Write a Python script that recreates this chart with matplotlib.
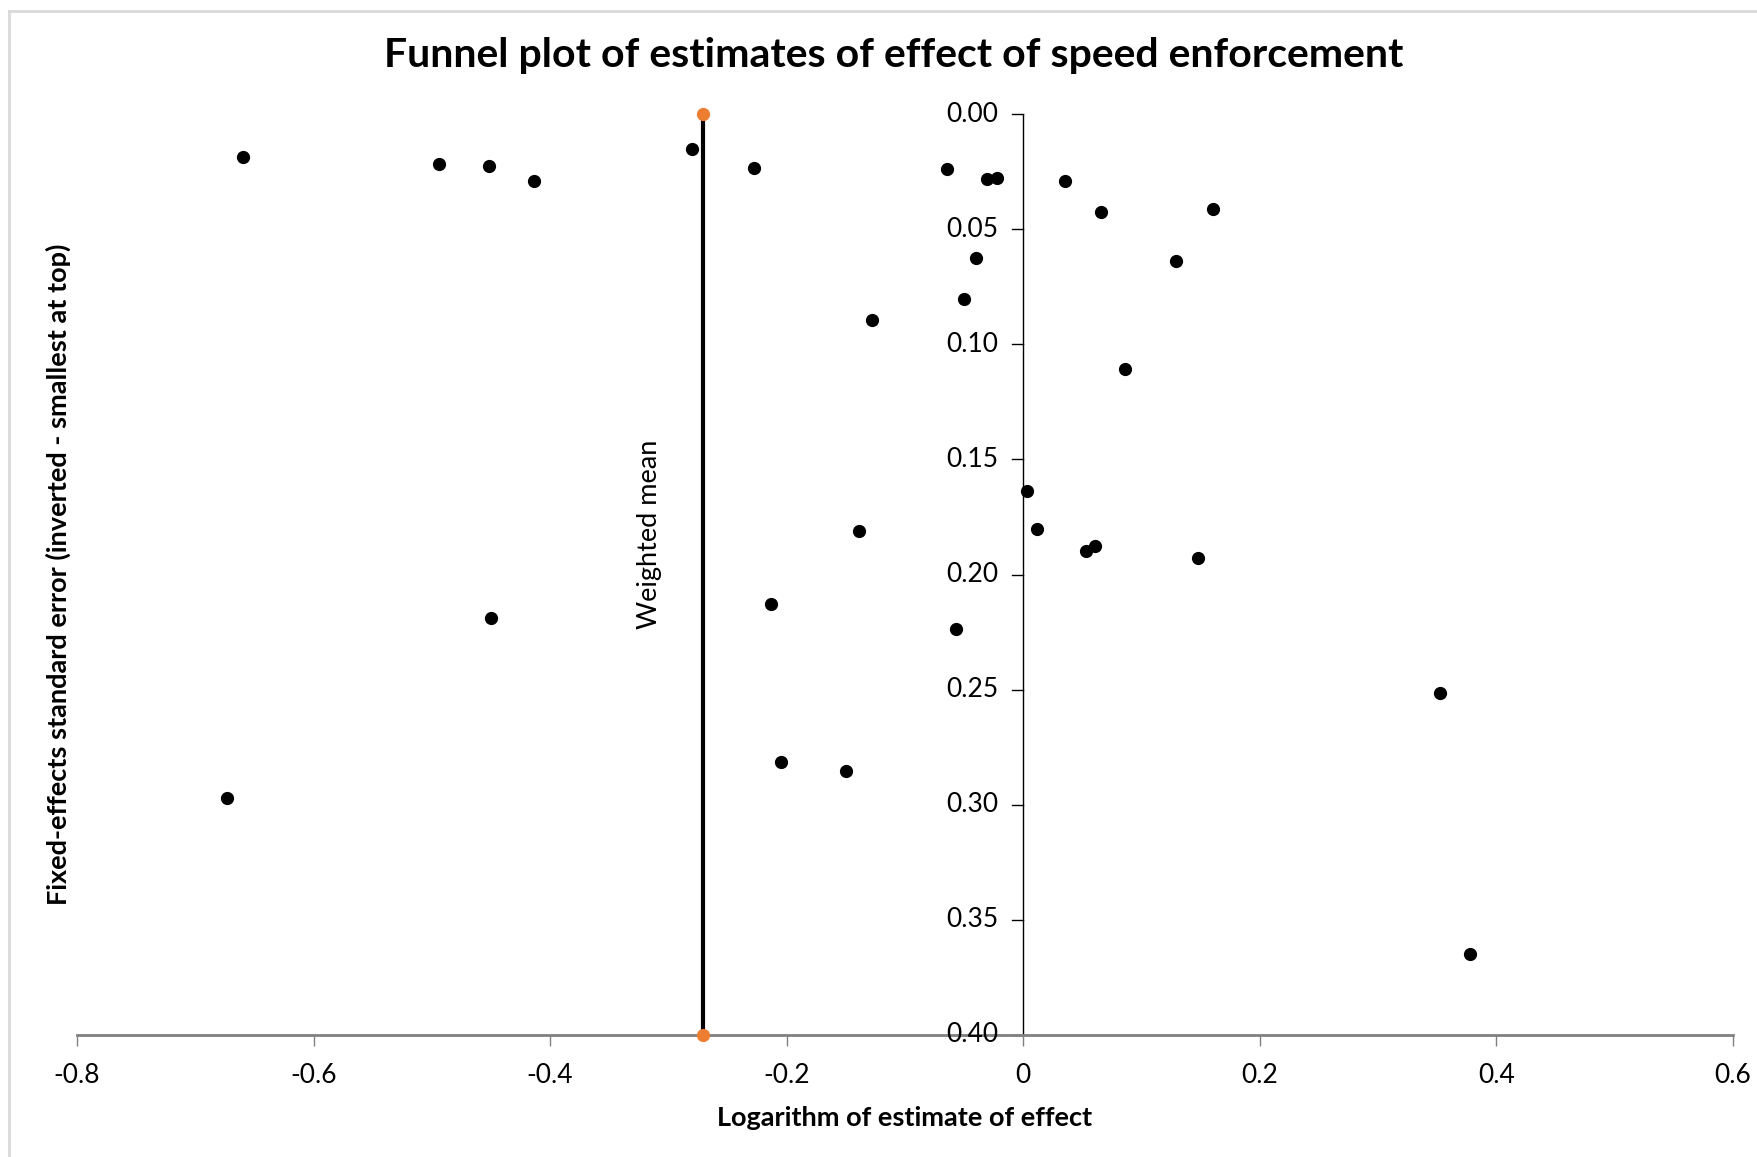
import matplotlib.pyplot as plt
from matplotlib.lines import Line2D

plt.rcParams['font.family'] = ['Lato', 'DejaVu Sans']

# log of estimate of effect, fixed-effects standard error
log_effect = [-0.660, -0.494, -0.452, -0.414, -0.280, -0.228, -0.0645, -0.0303,
              -0.0218, 0.0351, 0.0654, 0.160, -0.0398, 0.129, -0.0502, -0.128,
              0.0863, 0.0028, 0.0114, -0.139, 0.0607, 0.0531, 0.148, -0.213,
              -0.450, -0.0569, 0.352, -0.205, -0.150, -0.673, 0.378]
std_error = [0.0185, 0.0219, 0.0224, 0.0292, 0.0151, 0.0234, 0.0239, 0.0283,
             0.0278, 0.0292, 0.0424, 0.0414, 0.0624, 0.0638, 0.0804, 0.0896,
             0.1106, 0.1637, 0.1803, 0.1812, 0.1876, 0.1900, 0.1929, 0.2129,
             0.2188, 0.2236, 0.2514, 0.2816, 0.2855, 0.2972, 0.3649]

mean_x = [-0.271, -0.271]
mean_y = [0.0, 0.40]

xticks = [-0.8, -0.6, -0.4, -0.2, 0, 0.2, 0.4, 0.6]
xticklabels = ['-0.8', '-0.6', '-0.4', '-0.2', '0', '0.2', '0.4', '0.6']
yticks = [0.0, 0.05, 0.10, 0.15, 0.20, 0.25, 0.30, 0.35, 0.40]

W, H = 1758, 1157
fig = plt.figure(figsize=(W / 100, H / 100), dpi=100)
# chart border: only top and left edges fall inside the picture
fig.lines.append(Line2D([9 / W, 9 / W], [0, 1 - 11 / H], transform=fig.transFigure,
                        color='#d9d9d9', linewidth=2))
fig.lines.append(Line2D([9 / W, 1], [1 - 11 / H, 1 - 11 / H], transform=fig.transFigure,
                        color='#d9d9d9', linewidth=2))

ax = fig.add_axes([77 / W, 1 - 1035 / H, (1733 - 77) / W, (1035 - 114) / H])

ax.plot(mean_x, mean_y, color='black', linewidth=3, zorder=2, clip_on=False)
ax.plot(mean_x, mean_y, 'o', color='#ED7D31', ms=8.5, zorder=3, clip_on=False)
ax.plot(log_effect, std_error, 'o', color='black', ms=8.5, zorder=4, clip_on=False)

ax.set_xlim(-0.8, 0.6)
ax.set_ylim(0.40, 0.0)

for s in ['top', 'right', 'left']:
    ax.spines[s].set_visible(False)
ax.spines['bottom'].set_color('#808080')
ax.spines['bottom'].set_linewidth(2)

# y axis drawn at x = 0
ax.axvline(0, color='black', linewidth=1, zorder=1)
for yt in yticks:
    ax.plot([-0.0095, 0], [yt, yt], color='black', linewidth=1, clip_on=False)
    ax.text(-0.021, yt, f'{yt:.2f}', ha='right', va='center', fontsize=19)
ax.set_yticks([])

ax.set_xticks(xticks)
ax.set_xticklabels(xticklabels, fontsize=19)
ax.tick_params(axis='x', direction='out', length=8, width=1, color='#808080', pad=12)

ax.set_xlabel('Logarithm of estimate of effect', fontsize=19.5, fontweight='bold', labelpad=13)
fig.text(58 / W, 1 - 574 / H, 'Fixed-effects standard error (inverted - smallest at top)',
         rotation=90, ha='center', va='center', fontsize=19.5, fontweight='bold')

ax.text(-0.316, 0.1825, 'Weighted mean', rotation=90, ha='center', va='center', fontsize=19.5)

fig.text(894 / W, 1 - 56 / H, 'Funnel plot of estimates of effect of speed enforcement',
         ha='center', va='center', fontsize=29.5, fontweight='bold')

fig.savefig('out.png', dpi=100)
